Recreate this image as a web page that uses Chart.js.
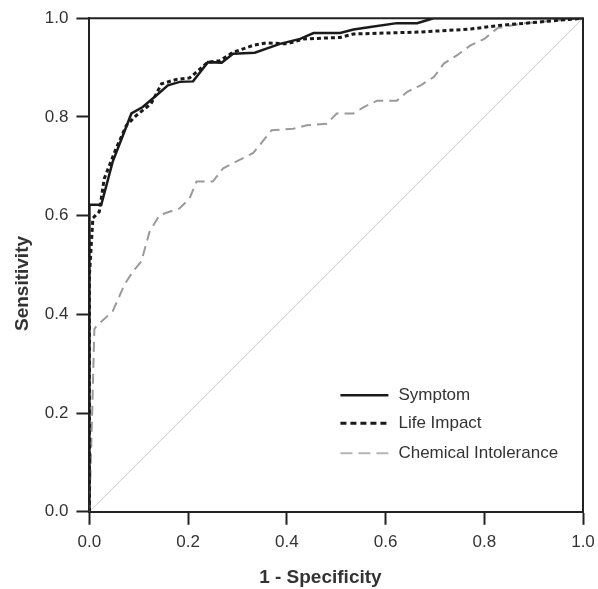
<!DOCTYPE html>
<html>
<head>
<meta charset="utf-8">
<script src="https://cdn.jsdelivr.net/npm/chart.js@4.4.0/dist/chart.umd.min.js"></script>
<style>
  html, body { margin: 0; padding: 0; background: #fff; }
  #wrap { width: 598px; height: 589px; }
</style>
</head>
<body>
<div id="wrap"><canvas id="rocChart" width="598" height="589"></canvas></div>
<script>
// ROC curves (x = 1 - specificity, y = sensitivity)
const symptomX = [0, 0, 0.004, 0.024, 0.047, 0.068, 0.085, 0.108, 0.136, 0.159, 0.183, 0.21, 0.24, 0.268, 0.291, 0.335, 0.386, 0.427, 0.454, 0.508, 0.535, 0.569, 0.623, 0.664, 0.697, 1];
const symptomY = [0, 0.622, 0.622, 0.622, 0.709, 0.763, 0.807, 0.82, 0.844, 0.864, 0.871, 0.872, 0.911, 0.91, 0.928, 0.93, 0.948, 0.958, 0.97, 0.97, 0.977, 0.982, 0.99, 0.99, 1, 1];

const lifeX = [0, 0, 0.007, 0.02, 0.03, 0.054, 0.075, 0.095, 0.125, 0.146, 0.176, 0.203, 0.217, 0.24, 0.264, 0.291, 0.332, 0.359, 0.4, 0.434, 0.508, 0.535, 0.67, 0.772, 0.827, 0.908, 1];
const lifeY = [0, 0.48, 0.595, 0.608, 0.675, 0.736, 0.783, 0.803, 0.827, 0.867, 0.876, 0.879, 0.891, 0.911, 0.914, 0.931, 0.945, 0.95, 0.948, 0.958, 0.961, 0.968, 0.972, 0.978, 0.985, 0.992, 1];

const chemX = [0, 0.005, 0.01, 0.014, 0.047, 0.071, 0.088, 0.105, 0.122, 0.142, 0.183, 0.203, 0.217, 0.25, 0.271, 0.332, 0.369, 0.413, 0.44, 0.481, 0.501, 0.535, 0.556, 0.583, 0.623, 0.644, 0.671, 0.698, 0.718, 0.745, 0.772, 0.8, 0.827, 0.874, 0.941, 1];
const chemY = [0, 0.18, 0.37, 0.376, 0.406, 0.46, 0.487, 0.507, 0.568, 0.601, 0.615, 0.635, 0.669, 0.669, 0.696, 0.727, 0.773, 0.776, 0.783, 0.786, 0.807, 0.807, 0.82, 0.833, 0.833, 0.851, 0.864, 0.881, 0.908, 0.925, 0.945, 0.958, 0.98, 0.989, 0.995, 1];

const refX = [0, 1];
const refY = [0, 1];

const seriesNames = ["Symptom", "Life Impact", "Chemical Intolerance"];
const tickValues = [0, 0.2, 0.4, 0.6, 0.8, 1.0];

const FONT = "'Liberation Sans', Arial, sans-serif";

function toPoints(xs, ys) {
  return xs.map((x, i) => ({ x: x, y: ys[i] }));
}

// legend drawn inside the plot, lower right
const innerLegend = {
  id: "innerLegend",
  afterDraw(chart) {
    const ctx = chart.ctx;
    const area = chart.chartArea;
    const x0 = area.left + 251;
    const rows = [area.top + 377, area.top + 405, area.top + 435];
    ctx.save();
    chart.data.datasets.slice(0, 3).forEach((ds, i) => {
      ctx.beginPath();
      ctx.strokeStyle = ds.legendColor || ds.borderColor;
      ctx.lineWidth = ds.borderWidth;
      ctx.setLineDash(ds.legendDash || []);
      ctx.moveTo(x0, rows[i]);
      ctx.lineTo(x0 + 48, rows[i]);
      ctx.stroke();
      ctx.setLineDash([]);
      ctx.fillStyle = "#333";
      ctx.font = "17px " + FONT;
      ctx.textBaseline = "middle";
      ctx.fillText(ds.label, x0 + 58, rows[i]);
    });
    ctx.restore();
  }
};

// top and right frame lines
const frame = {
  id: "frame",
  afterDatasetsDraw(chart) {
    const ctx = chart.ctx;
    const a = chart.chartArea;
    ctx.save();
    ctx.strokeStyle = "#222";
    ctx.lineWidth = 2;
    ctx.beginPath();
    ctx.moveTo(a.left, a.top);
    ctx.lineTo(a.right, a.top);
    ctx.lineTo(a.right, a.bottom);
    ctx.stroke();
    ctx.restore();
  }
};

const ctx = document.getElementById("rocChart").getContext("2d");
new Chart(ctx, {
  type: "line",
  data: {
    datasets: [
      {
        label: seriesNames[0],
        data: toPoints(symptomX, symptomY),
        borderColor: "#1a1a1a",
        borderWidth: 2.5,
        pointRadius: 0,
        legendDash: []
      },
      {
        label: seriesNames[1],
        data: toPoints(lifeX, lifeY),
        borderColor: "#1a1a1a",
        borderWidth: 3,
        borderDash: [4, 3],
        pointRadius: 0,
        legendDash: [6, 4]
      },
      {
        label: seriesNames[2],
        data: toPoints(chemX, chemY),
        borderColor: "#9a9a9a",
        borderWidth: 2,
        borderDash: [10, 6],
        pointRadius: 0,
        legendDash: [12, 6],
        legendColor: "#b5b5b5"
      },
      {
        label: "reference",
        data: toPoints(refX, refY),
        borderColor: "#d0d0d0",
        borderWidth: 1,
        pointRadius: 0
      }
    ]
  },
  options: {
    responsive: false,
    animation: false,
    layout: { padding: { top: 16, right: 15, left: 4, bottom: 0 } },
    plugins: {
      legend: { display: false },
      tooltip: { enabled: false }
    },
    scales: {
      x: {
        type: "linear",
        min: 0,
        max: 1,
        afterBuildTicks: (axis) => { axis.ticks = tickValues.map(v => ({ value: v })); },
        // let the last tick label run past the plot edge, like the original
        afterFit: (axis) => { axis.paddingRight = 0; axis.paddingLeft = 0; },
        ticks: {
          callback: (v) => v.toFixed(1),
          color: "#333",
          font: { family: FONT, size: 17 },
          padding: 7
        },
        grid: { drawOnChartArea: false, tickLength: 13, tickColor: "#222", tickWidth: 2 },
        border: { color: "#222", width: 2 },
        title: {
          display: true,
          text: "1 - Specificity      ",
          color: "#333",
          font: { family: FONT, size: 19, weight: "bold" },
          padding: { top: 7, bottom: 0 }
        }
      },
      y: {
        type: "linear",
        min: 0,
        max: 1,
        afterBuildTicks: (axis) => { axis.ticks = tickValues.map(v => ({ value: v })); },
        ticks: {
          callback: (v) => v.toFixed(1),
          color: "#333",
          font: { family: FONT, size: 17 },
          padding: 8
        },
        grid: { drawOnChartArea: false, tickLength: 13, tickColor: "#222", tickWidth: 2 },
        border: { color: "#222", width: 2 },
        title: {
          display: true,
          text: "Sensitivity       ",
          color: "#333",
          font: { family: FONT, size: 19, weight: "bold" },
          padding: { top: 7, bottom: 3 }
        }
      }
    }
  },
  plugins: [frame, innerLegend]
});
</script>
</body>
</html>
